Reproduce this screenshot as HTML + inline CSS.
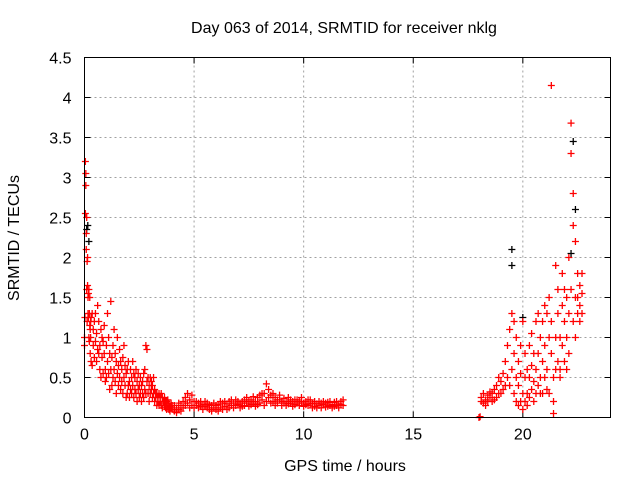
<!DOCTYPE html>
<html><head><meta charset="utf-8"><style>
body{margin:0;background:#fff}
svg text{font-family:"Liberation Sans",sans-serif;font-size:16px;fill:#000}
</style></head><body>
<svg id="chart" width="640" height="480" xmlns="http://www.w3.org/2000/svg">
<rect width="640" height="480" fill="#fff"/>
<text x="344" y="33" text-anchor="middle">Day 063 of 2014, SRMTID for receiver nklg</text>
<text x="345" y="471" text-anchor="middle">GPS time / hours</text>
<text transform="translate(19,238) rotate(-90)" text-anchor="middle">SRMTID / TECUs</text>
<g id="grid"></g>
<g id="axes"></g>
<g id="marks"></g>
<rect x="84.5" y="57.5" width="526" height="360" fill="none" stroke="#000" stroke-width="1"/>
</svg>
<script>
const xTicks=[0,5,10,15,20];
const yTicks=[0,0.5,1,1.5,2,2.5,3,3.5,4,4.5];
const yTickLabels=["0","0.5","1","1.5","2","2.5","3","3.5","4","4.5"];
const times=[0,0.02,0.04,0.06,0.08,0.1,0.12,0.14,0.16,0.18,0.2,0.22,0.24,0.26,0.28,
0.3,0.35,0.4,0.45,0.5,0.55,0.6,0.65,0.7,0.75,0.8,0.85,0.9,0.95,1.0,
1.05,1.1,1.15,1.2,1.25,1.3,1.35,1.4,1.45,1.5,1.55,1.6,1.65,1.7,1.75,1.8,1.85,1.9,1.95,2.0,
2.05,2.1,2.15,2.2,2.25,2.3,2.35,2.4,2.45,2.5,2.55,2.6,2.65,2.7,2.75,2.8,2.85,2.9,2.95,3.0,
3.05,3.1,3.15,3.2,3.25,3.3,3.35,3.4,3.45,3.5,3.55,3.6,3.65,3.7,3.75,3.8,3.85,3.9,3.95,4.0,
4.1,4.2,4.3,4.4,4.5,4.6,4.7,4.8,4.9,5.0,
5.1,5.2,5.3,5.4,5.5,5.6,5.7,5.8,5.9,6.0,6.1,6.2,6.3,6.4,6.5,6.6,6.7,6.8,6.9,7.0,7.1,7.2,7.3,7.4,7.5,7.6,7.7,7.8,7.9,8.0,
8.1,8.2,8.3,8.4,8.5,8.6,8.7,8.8,8.9,9.0,
9.1,9.2,9.3,9.4,9.5,9.6,9.7,9.8,9.9,10.0,10.1,10.2,10.3,10.4,10.5,10.6,10.7,10.8,10.9,11.0,11.1,11.2,11.3,11.4,11.5,11.6,11.7,11.8,
18.0,18.05,
18.1,18.2,18.3,18.4,18.5,18.6,18.7,18.8,18.9,19.0,19.1,19.2,19.3,19.4,19.5,
19.6,19.7,19.8,19.9,20.0,20.1,20.2,20.3,20.4,20.5,20.6,20.7,20.8,20.9,21.0,21.1,21.2,21.3,21.4,21.5,21.6,21.7,21.8,21.9,22.0,22.1,22.2,22.3,22.4,22.5,22.6,22.7];
const srmtid=[[1.0,0.9],[1.25],[3.2,2.55],[3.05,2.9],[2.1,2.3],[1.6,2.5],[1.2,1.95],[2.0,1.65],[1.5,1.3],[1.25,1.55],[1.0,1.6],[1.3,0.95],[1.15,1.5],[0.8,1.1],[1.2,1.0],
[1.25,0.7],[1.3,0.65],[1.1,0.9],[1.2,0.75],[0.95,1.3],[1.05,0.7],[1.4,0.85],[0.8,1.2],[0.9,0.6],[1.1,0.5],[0.75,1.0],[0.55,0.95],[0.8,1.15],[0.6,0.45],[0.9,0.5],
[0.7,1.3],[0.55,1.0],[0.8,0.35],[1.45,0.6],[0.75,0.4],[0.9,0.5],[0.6,1.1],[0.45,0.8],[0.7,0.3],[1.0,0.55],[0.65,0.4],[0.5,0.85],[0.35,0.7],[0.6,0.45],[0.75,0.3],[0.5,0.9],[0.4,0.65],[0.55,0.25],[0.3,0.6],[0.7,0.4],
[0.45,0.25],[0.6,0.35],[0.3,0.5],[0.4,0.7],[0.25,0.55],[0.5,0.35],[0.3,0.6],[0.45,0.2],[0.35,0.55],[0.25,0.4],[0.5,0.3],[0.4,0.2],[0.3,0.45],[0.55,0.25],[0.35,0.6],[0.9,0.3],[0.45,0.85],[0.3,0.5],[0.4,0.2],[0.5,0.3],
[0.35,0.45],[0.25,0.4],[0.3,0.5],[0.2,0.35],[0.3,0.25],[0.15,0.3],[0.25,0.2],[0.3,0.15],[0.2,0.25],[0.15,0.3],[0.25,0.12],[0.2,0.18],[0.15,0.25],[0.12,0.2],[0.2,0.1],[0.15,0.22],[0.1,0.18],[0.14,0.08],[0.18,0.12],[0.1,0.15],
[0.08,0.15],[0.12,0.06],[0.1,0.18],[0.15,0.08],[0.2,0.12],[0.25,0.15],[0.18,0.3],[0.22,0.12],[0.28,0.15],[0.2,0.12],
[0.15,0.2],[0.12,0.18],[0.2,0.14],[0.16,0.1],[0.14,0.2],[0.18,0.12],[0.1,0.16],[0.15,0.08],[0.12,0.18],[0.1,0.15],[0.16,0.08],[0.12,0.2],[0.18,0.1],[0.14,0.2],[0.1,0.17],[0.2,0.12],[0.15,0.22],[0.18,0.12],[0.22,0.15],[0.16,0.2],[0.12,0.18],[0.2,0.14],[0.15,0.22],[0.18,0.25],[0.14,0.2],[0.22,0.16],[0.18,0.26],[0.2,0.14],[0.25,0.16],[0.18,0.28],
[0.22,0.3],[0.3,0.15],[0.42,0.2],[0.35,0.25],[0.28,0.18],[0.2,0.3],[0.25,0.15],[0.18,0.22],[0.22,0.28],[0.2,0.15],
[0.18,0.24],[0.2,0.15],[0.25,0.17],[0.18,0.22],[0.2,0.14],[0.16,0.22],[0.22,0.18],[0.15,0.2],[0.2,0.25],[0.18,0.14],[0.2,0.16],[0.15,0.22],[0.22,0.17],[0.18,0.12],[0.14,0.2],[0.17,0.12],[0.2,0.15],[0.12,0.18],[0.16,0.2],[0.18,0.13],[0.14,0.19],[0.2,0.15],[0.16,0.12],[0.19,0.14],[0.15,0.2],[0.17,0.12],[0.2,0.16],[0.15,0.22],
[0.0],[0.01],
[0.2,0.25],[0.18,0.3],[0.22,0.15],[0.28,0.2],[0.25,0.32],[0.2,0.3],[0.35,0.22],[0.25,0.4],[0.3,0.5],[0.45,0.3],[0.55,0.35],[0.4,0.7],[0.9,0.5],[1.1,0.4],[1.3,0.6],
[0.3,0.8,1.2],[0.5,1.0,0.2],[0.4,0.7,0.15],[0.2,0.55,0.9],[0.1,0.3,1.2],[0.2,0.5,0.8],[0.3,0.6,0.15],[0.5,0.9,0.25],[0.35,0.65,1.05],[0.2,0.45,0.8],[0.6,1.2,0.3],[0.4,0.8,1.3],[0.5,1.0,0.3],[0.3,0.7,1.2],[0.5,0.9,1.4],[0.6,1.3,0.35],[1.0,1.5,0.3],[4.15,0.8,1.2],[0.2,0.5,0.05],[0.6,1.0,1.9],[0.7,1.3,1.6],[0.6,1.0,0.5],[0.9,1.4,1.8],[1.2,0.7,1.6],[1.0,1.5,0.6],[1.3,2.0,0.8],[3.3,3.68,1.6],[2.8,2.4,1.2],[1.5,2.2,1.0],[1.3,1.8,1.5],[1.4,1.65,1.2],[1.55,1.8,1.3]];
const blackTimes=[0.1,0.15,0.2,19.5,19.5,20.0,22.2,22.3,22.4];
const blackValues=[2.35,2.4,2.2,2.1,1.9,1.25,2.05,3.45,2.6];

const X0=84.5,X1=610.5,Y0=417.5,Y1=57.5;
const sx=v=>X0+(v/24)*(X1-X0);
const sy=v=>Y0-(v/4.5)*(Y0-Y1);
const NS="http://www.w3.org/2000/svg";
function mk(tag,parent){const e=document.createElementNS(NS,tag);parent.appendChild(e);return e;}
const grid=document.getElementById('grid'),axes=document.getElementById('axes'),marks=document.getElementById('marks');
xTicks.forEach((t,i)=>{
  const x=sx(t);
  if(i>0){const g=mk('line',grid);
  
  
  g.setAttribute('x1',x);g.setAttribute('x2',x);g.setAttribute('y1',Y0);g.setAttribute('y2',Y1);
  g.setAttribute('stroke','#a0a0a0');g.setAttribute('stroke-dasharray','2,3');}
  const tk=mk('path',axes);
  
  
  tk.setAttribute('d',`M${x},${Y0}v-6M${x},${Y1}v6`);tk.setAttribute('stroke','#000');
  const lb=mk('text',axes);
  
  
  lb.setAttribute('x',x);lb.setAttribute('y',Y0+22);lb.setAttribute('text-anchor','middle');lb.textContent=String(t);
});
yTicks.forEach((t,i)=>{
  const y=sy(t);
  if(i>0){const g=mk('line',grid);
  
  
  g.setAttribute('x1',X0);g.setAttribute('x2',X1);g.setAttribute('y1',y);g.setAttribute('y2',y);
  g.setAttribute('stroke','#a0a0a0');g.setAttribute('stroke-dasharray','2,3');}
  const tk=mk('path',axes);
  
  
  tk.setAttribute('d',`M${X0},${y}h6M${X1},${y}h-6`);tk.setAttribute('stroke','#000');
  const lb=mk('text',axes);
  
  
  lb.setAttribute('x',X0-13);lb.setAttribute('y',y+6);lb.setAttribute('text-anchor','end');lb.textContent=yTickLabels[i];
});
function plus(t,v,color,name){
  const x=sx(t),y=sy(v);
  const p=mk('path',marks);
  
  
  p.setAttribute('d',`M${x-3.5},${y}h7M${x},${y-3.5}v7`);
  p.setAttribute('stroke',color);p.setAttribute('stroke-width','1.3');
}
blackTimes.forEach((t,i)=>plus(t,blackValues[i],'#000','black-point'));
times.forEach((t,i)=>srmtid[i].forEach(v=>plus(t,v,'#ff0000','srmtid-point')));
</script>
</body></html>
